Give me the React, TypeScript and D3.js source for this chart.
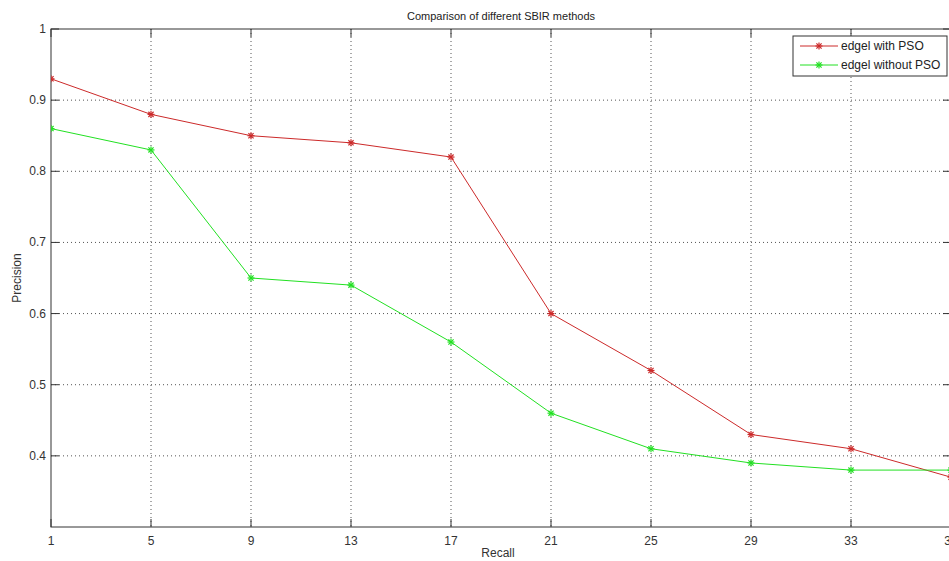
import React from "react";
import * as d3 from "d3";

const recall = [1, 5, 9, 13, 17, 21, 25, 29, 33, 37];
const withPSO = [0.93, 0.88, 0.85, 0.84, 0.82, 0.6, 0.52, 0.43, 0.41, 0.37];
const withoutPSO = [0.86, 0.83, 0.65, 0.64, 0.56, 0.46, 0.41, 0.39, 0.38, 0.38];
const xTicks = [1, 5, 9, 13, 17, 21, 25, 29, 33, 37];
const yTicks = [0.4, 0.5, 0.6, 0.7, 0.8, 0.9, 1];
const seriesNames = ["edgel with PSO", "edgel without PSO"];
const seriesColors = ["#cc2a2a", "#22e022"];

const W = 949, H = 561;
const L = 51, T = 29, R = 951, B = 527;

function Star({ x, y, color }: { x: number; y: number; color: string }) {
  const s = 3.5, d = 2.6;
  return (
    <g stroke={color} strokeWidth={1.2}>
      <line x1={x - s} y1={y} x2={x + s} y2={y} />
      <line x1={x} y1={y - s} x2={x} y2={y + s} />
      <line x1={x - d} y1={y - d} x2={x + d} y2={y + d} />
      <line x1={x - d} y1={y + d} x2={x + d} y2={y - d} />
    </g>
  );
}

export default function App() {
  const x = d3.scaleLinear().domain([1, 37]).range([L, R]);
  const y = d3.scaleLinear().domain([0.3, 1]).range([B, T]);
  const line = d3
    .line<number>()
    .x((_, i) => x(recall[i]))
    .y((d) => y(d));
  const series = [withPSO, withoutPSO];
  const font = "'Liberation Sans', Arial, sans-serif";
  return (
    <svg
      width={W}
      height={H}
      style={{ position: "absolute", left: 0, top: 0, background: "#fff" }}
      fontFamily={font}
    >
      <rect x={0} y={0} width={W} height={H} fill="#fff" />
      <defs>
        <clipPath id="plot">
          <rect x={L} y={T} width={R - L} height={B - T} />
        </clipPath>
      </defs>
      {/* grid */}
      <g stroke="#555" strokeWidth={1} strokeDasharray="1,3">
        {xTicks.slice(1).map((t) => (
          <line key={t} x1={x(t)} x2={x(t)} y1={T} y2={B} />
        ))}
        {yTicks.slice(0, -1).map((t) => (
          <line key={t} x1={L} x2={R} y1={y(t)} y2={y(t)} />
        ))}
      </g>
      {/* box */}
      <rect x={L} y={T} width={R - L} height={B - T} fill="none" stroke="#333" strokeWidth={1} />
      {/* ticks */}
      <g stroke="#333" strokeWidth={1}>
        {xTicks.map((t) => (
          <g key={t}>
            <line x1={x(t)} x2={x(t)} y1={B} y2={B - 8} />
            <line x1={x(t)} x2={x(t)} y1={T} y2={T + 8} />
          </g>
        ))}
        {yTicks.map((t) => (
          <g key={t}>
            <line x1={L} x2={L + 8} y1={y(t)} y2={y(t)} />
            <line x1={R} x2={R - 8} y1={y(t)} y2={y(t)} />
          </g>
        ))}
      </g>
      <g fontSize={12} fill="#333">
        {xTicks.map((t) => (
          <text key={t} x={x(t)} y={B + 18} textAnchor="middle">
            {t}
          </text>
        ))}
        {yTicks.map((t) => (
          <text key={t} x={L - 5} y={y(t) + 4} textAnchor="end">
            {String(t)}
          </text>
        ))}
      </g>
      {/* series */}
      <g clipPath="url(#plot)">
        {series.map((s, si) => (
          <g key={si}>
            <path d={line(s) || ""} fill="none" stroke={seriesColors[si]} strokeWidth={1} />
            {s.map((v, i) => (
              <Star key={i} x={x(recall[i])} y={y(v)} color={seriesColors[si]} />
            ))}
          </g>
        ))}
      </g>
      {/* labels */}
      <text x={(L + R) / 2} y={20} textAnchor="middle" fontSize={11} fill="#222">
        Comparison of different SBIR methods
      </text>
      <text x={498} y={557} textAnchor="middle" fontSize={12} fill="#333">
        Recall
      </text>
      <text
        transform={`translate(21, ${(T + B) / 2}) rotate(-90)`}
        textAnchor="middle"
        fontSize={12}
        fill="#333"
      >
        Precision
      </text>
      {/* legend */}
      <g>
        <rect x={793} y={36} width={154} height={40} fill="#fff" stroke="#333" strokeWidth={1} />
        {seriesNames.map((n, i) => (
          <g key={n}>
            <line x1={800} x2={838} y1={46 + i * 19} y2={46 + i * 19} stroke={seriesColors[i]} strokeWidth={1} />
            <Star x={819} y={46 + i * 19} color={seriesColors[i]} />
            <text x={841} y={50 + i * 19} fontSize={12} fill="#222">
              {n}
            </text>
          </g>
        ))}
      </g>
    </svg>
  );
}
